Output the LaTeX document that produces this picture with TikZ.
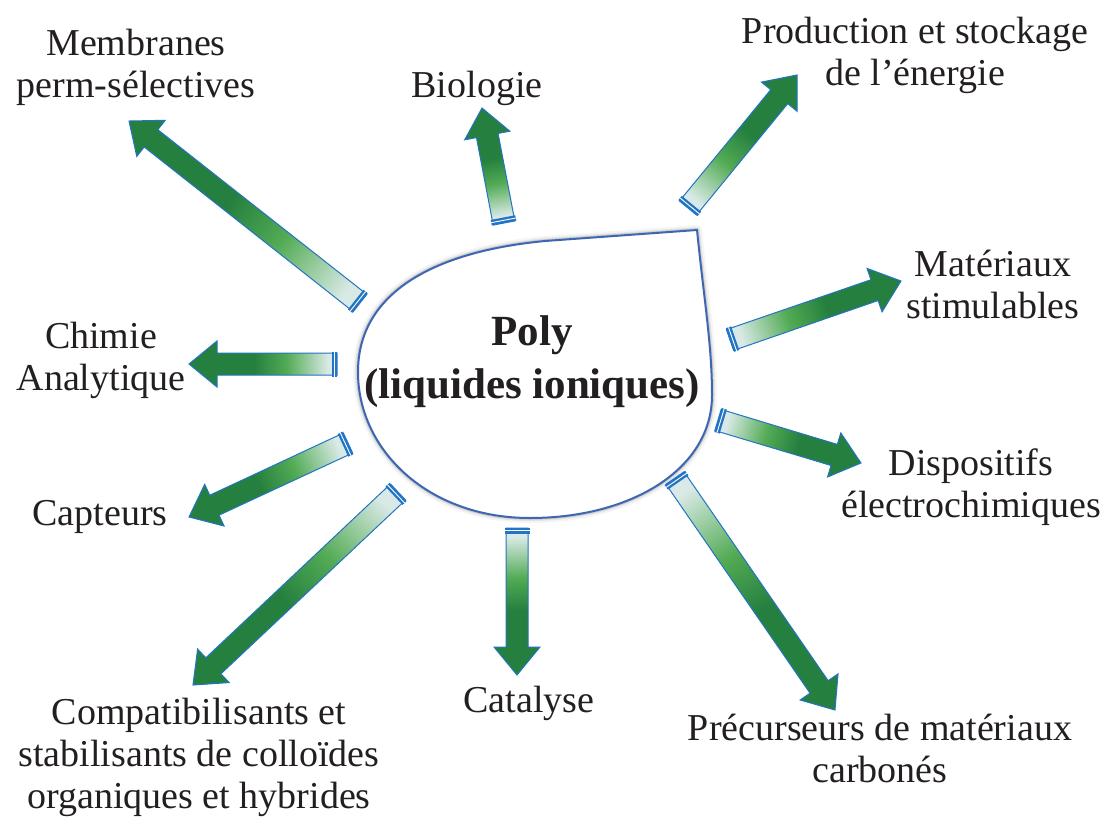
\documentclass[tikz,border=0pt]{standalone}
\usepackage{fontspec}
\setmainfont{Liberation Serif}
\usetikzlibrary{calc}
\definecolor{palegreen}{HTML}{D9EAE6}
\definecolor{midgreen}{HTML}{53AB55}
\definecolor{darkgreen}{HTML}{25803F}
\definecolor{arrowblue}{HTML}{2274C4}
\definecolor{shapeblue}{HTML}{3E67B3}
\definecolor{txt}{HTML}{231F20}
\pgfdeclarehorizontalshading{arrowshade}{100bp}{color(0bp)=(palegreen); color(28bp)=(palegreen); color(42bp)=(midgreen); color(53bp)=(darkgreen); color(100bp)=(darkgreen)}
\newcommand\greenarrow[2]{%
  \path let \p1=(#1), \p2=(#2) in
    \pgfextra{\pgfmathsetmacro\gaang{atan2(\y2-\y1,\x2-\x1)}%
              \pgfmathsetmacro\galen{veclen(\x2-\x1,\y2-\y1)}%
              \global\let\gaang\gaang \global\let\galen\galen};
  \begin{scope}[transform canvas={shift={(#1)},rotate=\gaang}]
    \shadedraw[shading=arrowshade, draw=arrowblue, line width=1pt, line join=miter]
      (0,-11) -- ({\galen-28},-11) -- ({\galen-28},-23) -- (\galen,0)
      -- ({\galen-28},23) -- ({\galen-28},11) -- (0,11) -- cycle;
    \fill[arrowblue] (0,-12.5) rectangle (5.5,12.5);
    \draw[white, line width=0.9pt] (2.7,-12.5) -- (2.7,12.5);
  \end{scope}}
\begin{document}
\begin{tikzpicture}[x=1pt,y=-1pt,
  lbl/.style={font=\fontsize{38}{42}\selectfont, text=txt, align=center, anchor=base, inner sep=0pt},
  ctr/.style={font=\fontsize{43}{53}\selectfont\bfseries, align=center, anchor=base, inner sep=0pt}]
\useasboundingbox[fill=white] (0,0) rectangle (1101,819);

% central shape
\def\blob{(697,230) .. controls (704,300) and (712,345) .. (712,395)
  .. controls (712,470) and (630,518) .. (530,518)
  .. controls (428,518) and (358,450) .. (358,372)
  .. controls (358,295) and (430,252) .. (545,241) -- cycle}
\draw[gray, line width=10pt, opacity=0.08, line join=round] \blob;
\draw[gray, line width=6pt, opacity=0.15, line join=round] \blob;
\draw[gray, line width=3.5pt, opacity=0.25, line join=round] \blob;
\filldraw[fill=white, draw=shapeblue, line width=2pt, line join=miter] \blob;
\node[ctr, text=txt] (center) at (532,398) {Poly\\(liquides ioniques)};

% tails and heads
\coordinate (memT) at (360,303); \coordinate (memH) at (129,121);
\coordinate (bioT) at (504,223); \coordinate (bioH) at (482,108);
\coordinate (proT) at (688,208); \coordinate (proH) at (797,75);
\coordinate (matT) at (730,340); \coordinate (matH) at (901,281);
\coordinate (disT) at (718,420); \coordinate (disH) at (861,463);
\coordinate (preT) at (675,478); \coordinate (preH) at (835,710);
\coordinate (catT) at (517,528); \coordinate (catH) at (517,675);
\coordinate (comT) at (398,492); \coordinate (comH) at (193,685);
\coordinate (capT) at (348,443); \coordinate (capH) at (189,517);
\coordinate (chiT) at (337,364); \coordinate (chiH) at (189,364);

\greenarrow{memT}{memH}
\greenarrow{bioT}{bioH}
\greenarrow{proT}{proH}
\greenarrow{matT}{matH}
\greenarrow{disT}{disH}
\greenarrow{preT}{preH}
\greenarrow{catT}{catH}
\greenarrow{comT}{comH}
\greenarrow{capT}{capH}
\greenarrow{chiT}{chiH}

% labels (anchor = baseline of the last line)
\node[lbl] (mem) at (136,97) {Membranes\\perm-sélectives};
\node[lbl] (bio) at (477,97) {Biologie};
\node[lbl] (pro) at (915,85) {Production et stockage\\de l’énergie};
\node[lbl] (mat) at (993,318) {Matériaux\\stimulables};
\node[lbl] (dis) at (971,517) {Dispositifs\\électrochimiques};
\node[lbl] (pre) at (880,782) {Précurseurs de matériaux\\carbonés};
\node[lbl] (cat) at (529,712) {Catalyse};
\node[lbl] (com) at (199,808) {Compatibilisants et\\stabilisants de colloïdes\\organiques et hybrides};
\node[lbl] (cap) at (100,525) {Capteurs};
\node[lbl] (chi) at (101,390) {Chimie\\Analytique};
\end{tikzpicture}
\end{document}
